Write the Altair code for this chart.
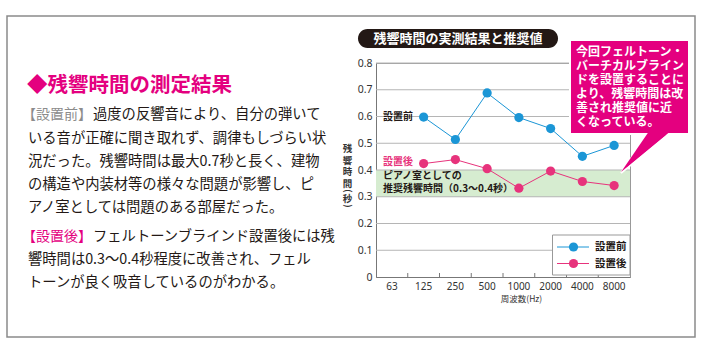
import altair as alt
import pandas as pd

# ---------------- data ----------------
freqs = ["63", "125", "250", "500", "1000", "2000", "4000", "8000"]
before = [None, 0.598, 0.514, 0.688, 0.596, 0.555, 0.451, 0.492]
after = [None, 0.424, 0.439, 0.405, 0.332, 0.396, 0.357, 0.342]
series = ["設置前", "設置後"]
y_ticks = [0, 0.1, 0.2, 0.3, 0.4, 0.5, 0.6, 0.7, 0.8]
recommended = [0.3, 0.4]

chart_title = "残響時間の実測結果と推奨値"
x_title = "周波数(Hz)"
y_title_chars = ["残", "響", "時", "間"]
band_lines = ["ピアノ室としての", "推奨残響時間（0.3〜0.4秒）"]
callout_lines = ["今回フェルトーン・", "バーチカルブライン", "ドを設置することに",
                 "より、残響時間は改", "善され推奨値に近", "くなっている。"]
heading = "◆残響時間の測定結果"
body_before_tag = "【設置前】"
body_before = ["過度の反響音により、自分の弾いて",
               "いる音が正確に聞き取れず、調律もしづらい状",
               "況だった。残響時間は最大0.7秒と長く、建物",
               "の構造や内装材等の様々な問題が影響し、ピ",
               "アノ室としては問題のある部屋だった。"]
body_after_tag = "【設置後】"
body_after = ["フェルトーンブラインド設置後には残",
              "響時間は0.3〜0.4秒程度に改善され、フェル",
              "トーンが良く吸音しているのがわかる。"]

rows = []
for name, vals in zip(series, [before, after]):
    for f, v in zip(freqs, vals):
        if v is not None:
            rows.append({"freq": f, "value": v, "series": name})
df = pd.DataFrame(rows)
grid_df = pd.DataFrame({"g": y_ticks[1:]})
tick_df = pd.DataFrame({"freq": freqs[1:]})
one = pd.DataFrame({"a": [0]})

# ---------------- layout ----------------
FONT = "Noto Sans CJK JP"
BLUE = "#1b96d6"
PINK = "#e7337c"
MAGENTA = "#e4007f"
GREEN = "#d6ecd0"
BLACK = "#231815"

W, H = 254, 214
X0, Y0 = 376, 63


def px(x):
    return x - X0


def py(y):
    return y - Y0


xscale = alt.Scale(domain=freqs, paddingInner=0, paddingOuter=0)
yscale = alt.Scale(domain=[0, 0.8], nice=False)
xaxis = alt.Axis(title=None, ticks=False, labelAngle=0, domainColor="#777",
                 labelColor="#333", labelFontSize=10, labelPadding=4,
                 labelFont="Noto Sans", grid=False)
yaxis = alt.Axis(title=None, ticks=False, grid=False, domainColor="#777",
                 labelColor="#333", labelFontSize=10.5, labelPadding=4,
                 labelFont="Noto Sans", values=y_ticks,
                 labelExpr="datum.value == 0 ? '0' : format(datum.value, '.1f')")

layers = []

# outer frame
layers.append(alt.Chart(one).mark_rect(fill=None, stroke="#8a8a8a", strokeWidth=1.5).encode(
    x=alt.value(px(7)), x2=alt.value(px(695)), y=alt.value(py(16)), y2=alt.value(py(337))))


def text_layer(txt, x, y, size, color=BLACK, weight="normal", align="left", angle=0, font=FONT):
    return alt.Chart(one).mark_text(text=txt, fontSize=size, color=color, fontWeight=weight,
                                    align=align, baseline="middle", font=font, angle=angle).encode(
        x=alt.value(px(x)), y=alt.value(py(y)))


# left text block
layers.append(text_layer(heading, 27, 86, 20.5, MAGENTA, "bold"))
layers.append(text_layer(body_before_tag, 22, 115, 14, "#8c8c8c"))
layers.append(text_layer(body_before[0], 93, 115, 14.3))
for i, line in enumerate(body_before[1:]):
    layers.append(text_layer(line, 28, 138.5 + i * 23, 14.3))
layers.append(text_layer(body_after_tag, 22, 237, 14, MAGENTA))
layers.append(text_layer(body_after[0], 93, 237, 14.3))
for i, line in enumerate(body_after[1:]):
    layers.append(text_layer(line, 28, 260 + i * 22.5, 14.3))

# recommended band
layers.append(alt.Chart(one).mark_rect(color=GREEN).encode(
    x=alt.value(0), x2=alt.value(W),
    y=alt.Y(datum=recommended[0], type="quantitative", scale=yscale, axis=yaxis),
    y2=alt.Y2(datum=recommended[1])))

# grid
layers.append(alt.Chart(grid_df).mark_rule(color="#b5b5b5", strokeWidth=1).encode(
    y=alt.Y("g:Q", scale=yscale, axis=yaxis), x=alt.value(0), x2=alt.value(W)))

# inward x ticks at band boundaries
layers.append(alt.Chart(tick_df).mark_rule(color="#777", strokeWidth=1).encode(
    x=alt.X("freq:N", scale=xscale, axis=xaxis, bandPosition=0, sort=freqs),
    y=alt.value(H), y2=alt.value(H - 4)))

color = alt.Color("series:N", scale=alt.Scale(domain=series, range=[BLUE, PINK]), legend=None)
base = alt.Chart(df).encode(
    x=alt.X("freq:N", scale=xscale, axis=xaxis, sort=freqs),
    y=alt.Y("value:Q", scale=yscale, axis=yaxis),
    color=color,
    detail="series:N")
layers.append(base.mark_line(strokeWidth=1))
layers.append(base.mark_point(filled=True, size=85, opacity=1))

# series labels
layers.append(text_layer(series[0], 383, 117, 10, BLACK, "bold"))
layers.append(text_layer(series[1], 383, 161.5, 10, PINK, "bold"))

# band text
layers.append(text_layer(band_lines[0], 383, 176, 10, BLACK, "bold"))
layers.append(text_layer(band_lines[1], 383, 188.5, 10, BLACK, "bold"))

# legend
layers.append(alt.Chart(one).mark_rect(fill="white", stroke="#999", strokeWidth=1).encode(
    x=alt.value(px(552.5)), x2=alt.value(px(630)), y=alt.value(py(235)), y2=alt.value(py(275))))
for name, col, yy in zip(series, [BLUE, PINK], [247, 263.5]):
    layers.append(alt.Chart(one).mark_rule(color=col, strokeWidth=1).encode(
        x=alt.value(px(557)), x2=alt.value(px(589)), y=alt.value(py(yy))))
    layers.append(alt.Chart(one).mark_point(filled=True, size=85, opacity=1, color=col).encode(
        x=alt.value(px(573.5)), y=alt.value(py(yy))))
    layers.append(text_layer(name, 595, yy, 10.5, BLACK, "bold"))

# chart title pill
layers.append(alt.Chart(one).mark_rect(color=BLACK, cornerRadius=9.5).encode(
    x=alt.value(px(358)), x2=alt.value(px(558)), y=alt.value(py(29)), y2=alt.value(py(48))))
layers.append(text_layer(chart_title, 458, 38.5, 13, "white", "bold", "center"))

# callout
TAIL = "M0.15,-0.85 L1,-0.85 L-0.96,0.77 Z"
tail_x, tail_y, tail_size = px(646), py(153), 2704
layers.append(alt.Chart(one).mark_point(shape=TAIL, filled=True, size=tail_size, fill=MAGENTA,
                                        stroke="white", strokeWidth=2, opacity=1).encode(
    x=alt.value(tail_x), y=alt.value(tail_y)))
layers.append(alt.Chart(one).mark_rect(fill=MAGENTA, stroke="white", strokeWidth=2).encode(
    x=alt.value(px(570)), x2=alt.value(px(689)), y=alt.value(py(40)), y2=alt.value(py(134))))
layers.append(alt.Chart(one).mark_point(shape=TAIL, filled=True, size=tail_size, fill=MAGENTA,
                                        strokeWidth=0, opacity=1).encode(
    x=alt.value(tail_x), y=alt.value(tail_y - 1)))
for i, line in enumerate(callout_lines):
    layers.append(text_layer(line, 576, 52 + i * 14, 12, "white", "bold"))

# y title (vertical, upright characters)
for i, ch in enumerate(y_title_chars):
    layers.append(text_layer(ch, 347.5, 149 + i * 11.5, 9.5, "#333", "bold", "center"))
layers.append(text_layer("(", 347.5, 191, 9, "#333", "bold", "center", angle=90))
layers.append(text_layer("秒", 347.5, 198.5, 9.5, "#333", "bold", "center"))
layers.append(text_layer(")", 347.5, 206, 9, "#333", "bold", "center", angle=90))

# x title
layers.append(text_layer(x_title, 521.5, 299, 8.5, "#333", "normal", "center"))

chart = alt.layer(*layers).properties(
    width=W, height=H,
    padding={"left": X0, "top": Y0, "right": 701 - X0 - W, "bottom": 354 - Y0 - H},
    autosize=alt.AutoSizeParams(type="none"),
    background="white",
).configure_view(stroke="#999", strokeWidth=1)

chart.save("out.html", embed_options={"renderer": "svg", "actions": False})
